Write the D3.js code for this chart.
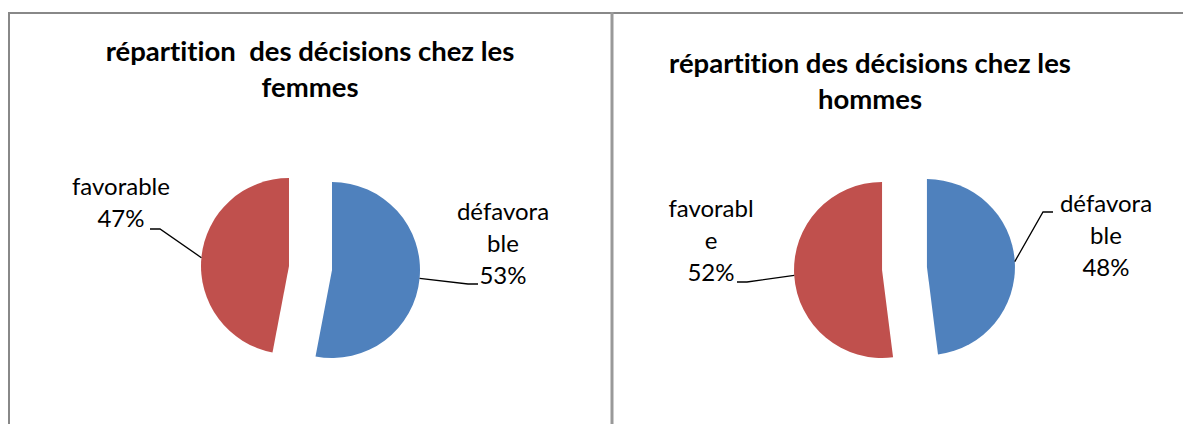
<!DOCTYPE html>
<html>
<head>
<meta charset="utf-8">
<script src="https://cdn.jsdelivr.net/npm/d3@7"></script>
<style>
  body { margin: 0; background: #fff; }
  text { font-family: Lato, "Open Sans", sans-serif; fill: #000; font-variant-ligatures: none; white-space: pre; }
</style>
</head>
<body>
<div id="chart"></div>
<script>
// data
var categories = ["défavorable", "favorable"];
var femmesValues = [53, 47];
var hommesValues = [48, 52];
var titlesFemmes = ["répartition  des décisions chez les", "femmes"];
var titlesHommes = ["répartition des décisions chez les", "hommes"];
var colors = ["#4F81BD", "#C0504D"];

var W = 1183, H = 424;

var svg = d3.select("#chart").append("svg")
  .attr("width", W)
  .attr("height", H);

// frame lines
svg.append("line").attr("x1", 8).attr("x2", W).attr("y1", 13).attr("y2", 13)
  .attr("stroke", "#888").attr("stroke-width", 2);
svg.append("line").attr("x1", 9).attr("x2", 9).attr("y1", 12).attr("y2", H)
  .attr("stroke", "#888").attr("stroke-width", 2);
svg.append("line").attr("x1", 612).attr("x2", 612).attr("y1", 12).attr("y2", H)
  .attr("stroke", "#999").attr("stroke-width", 3);

// layout for each chart (label placement like excel's manual labels)
var charts = [
  { values: femmesValues, title: titlesFemmes, tx: 310, ty: 61, cx: 310.5, cy: 268, explode: 21.6,
    labels: [
      { x: 503, y: 220, ex: 478, ey: 284, wrap: 8 },
      { x: 121, y: 195, ex: 150, ey: 229, wrap: 9 }
    ] },
  { values: hommesValues, title: titlesHommes, tx: 870, ty: 73, cx: 904.5, cy: 268.5, explode: 22.5,
    labels: [
      { x: 1106, y: 212, ex: 1053, ey: 212, wrap: 8 },
      { x: 711, y: 217, ex: 737, ey: 282, wrap: 8 }
    ] }
];

var radius = 88;
var lineH = 32;

var pie = d3.pie().sort(null).value(function(d) { return d; });
var arc = d3.arc().innerRadius(0).outerRadius(radius);

charts.forEach(function(c) {
  var g = svg.append("g");

  // title
  g.selectAll(".title").data(c.title).enter().append("text")
    .attr("class", "title")
    .attr("x", c.tx)
    .attr("y", function(d, i) { return c.ty + i * 36; })
    .attr("text-anchor", "middle")
    .style("font-weight", "bold")
    .style("font-size", "27.5px")
    .text(function(d) { return d; });

  var total = d3.sum(c.values);
  var arcs = pie(c.values);

  arcs.forEach(function(a, i) {
    var mid = (a.startAngle + a.endAngle) / 2;
    var ox = c.cx + c.explode * Math.sin(mid);
    var oy = c.cy - c.explode * Math.cos(mid);

    g.append("path")
      .attr("d", arc(a))
      .attr("transform", "translate(" + ox + "," + oy + ")")
      .attr("fill", colors[i]);

    var lab = c.labels[i];
    // leader line: slice edge -> elbow -> near text
    var px = ox + radius * Math.sin(mid), py = oy - radius * Math.cos(mid);
    var dir = lab.ex > px ? -1 : 1;
    g.append("path")
      .attr("d", d3.line()([[px, py], [lab.ex + dir * 10, lab.ey], [lab.ex, lab.ey]]))
      .attr("fill", "none")
      .attr("stroke", "#000")
      .attr("stroke-width", 1.3);

    var name = categories[i];
    var lines = [];
    for (var k = 0; k < name.length; k += lab.wrap) lines.push(name.slice(k, k + lab.wrap));
    lines.push(Math.round(c.values[i] / total * 100) + "%");

    g.selectAll(null).data(lines).enter().append("text")
      .attr("x", lab.x)
      .attr("y", function(d, j) { return lab.y + j * lineH; })
      .attr("text-anchor", "middle")
      .style("font-size", "24px")
      .text(function(d) { return d; });
  });
});
</script>
</body>
</html>
